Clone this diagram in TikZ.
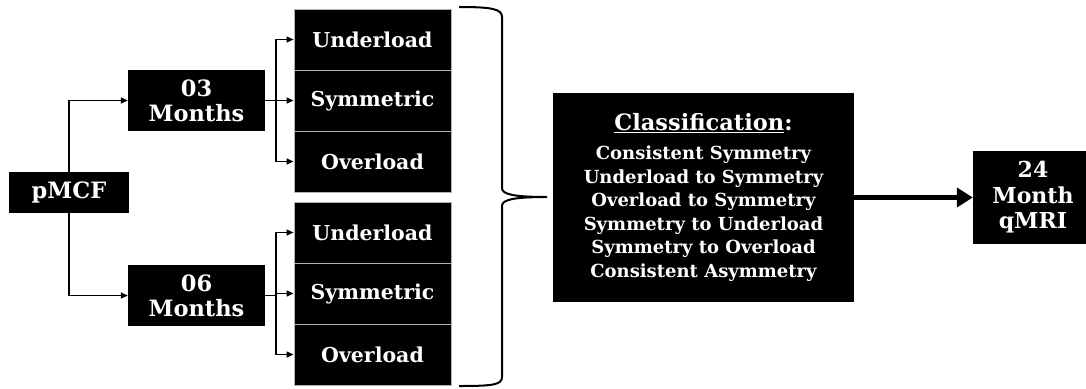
\documentclass[tikz,border=0pt]{standalone}
\usepackage{fontspec}
\setmainfont{DejaVu Serif}
\usetikzlibrary{arrows.meta,calc}

\begin{document}
\begin{tikzpicture}[x=1pt,y=-1pt,
    box/.style={fill=black,text=white,align=center,inner sep=0pt,
      font=\bfseries\fontsize{22.5}{25}\selectfont},
    cat/.style={box,draw=gray!60,line width=1pt,minimum width=157pt,minimum height=61pt,
      font=\bfseries\fontsize{20.5}{24}\selectfont},
    link/.style={line width=1.5pt},
    arr/.style={link,-{Triangle[length=7pt,width=6pt]}}]
    \useasboundingbox (0,0) rectangle (1086,388);

    % time points
    \node[box,minimum width=120pt,minimum height=41pt] (pmcf) at (69,192.5) {pMCF};
    \node[box,minimum width=137pt,minimum height=61pt] (m03) at (196.5,100.5) {03\\Months};
    \node[box,minimum width=137pt,minimum height=61pt] (m06) at (196.5,295.5) {06\\Months};

    \draw [arr] (pmcf.north) |- (m03.west);
    \draw [arr] (pmcf.south) |- (m06.west);

    % load categories
    \foreach \g/\y in {03/9,06/202} {
        \node[cat] (u\g) at (372.5,\y+30.5) {Underload};
        \node[cat] (s\g) at (372.5,\y+91.5) {Symmetric};
        \node[cat] (o\g) at (372.5,\y+152.5) {Overload};
        \coordinate (split\g) at ($(m\g.east)+(11,0)$);
        \draw [link] (m\g.east) -- (split\g);
        \foreach \c in {u,s,o}
            \draw [arr] (split\g) |- (\c\g.west);
    }

    % brace
    \draw [line width=2pt] (459,7) .. controls (492,7) and (502,9) .. (502,17) -- (502,188)
        .. controls (502,194) and (512,197) .. (547,197)
        .. controls (512,197) and (502,200) .. (502,206) -- (502,377)
        .. controls (502,385) and (492,386) .. (459,386);

    \node[box,minimum width=301pt,minimum height=209pt,
        font=\bfseries\fontsize{18}{23.5}\selectfont] (cls) at (703.5,197.5)
        {{\fontsize{22.5}{26}\selectfont\underline{Classification}:}\\[5.5pt]
         Consistent Symmetry\\
         Underload to Symmetry\\
         Overload to Symmetry\\
         Symmetry to Underload\\
         Symmetry to Overload\\
         Consistent Asymmetry};

    \node[box,minimum width=120pt,minimum height=93pt,
        font=\bfseries\fontsize{22}{25.5}\selectfont] (mri) at (1033,197.5) {24\\Month\\qMRI};

    \draw [line width=5pt,-{Triangle[length=16pt,width=19pt]}] (cls.east) -- (mri.west);

\end{tikzpicture}
\end{document}
